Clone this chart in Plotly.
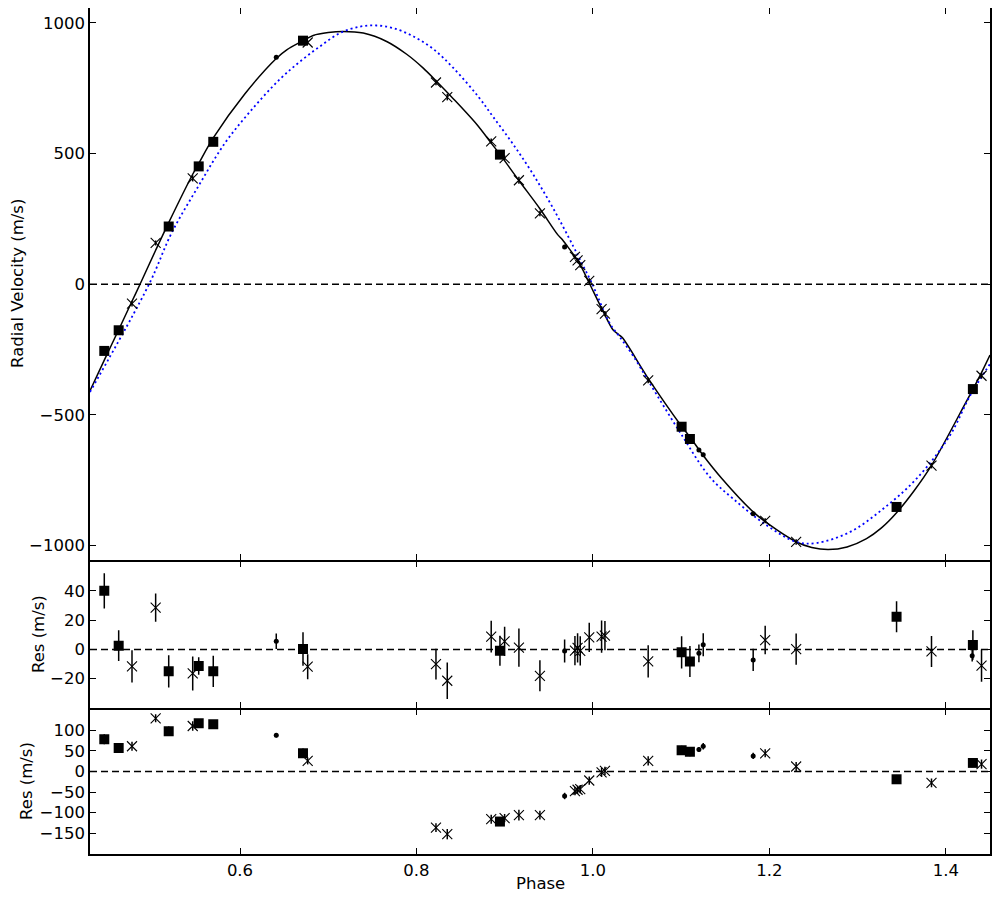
import plotly.graph_objects as go

# observed data, three instruments: squares, crosses, dots
phase_sq = [0.4462, 0.4625, 0.5192, 0.5532, 0.5697, 0.6714, 0.8946, 1.1005, 1.1099, 1.3441, 1.4306]
rv_sq = [-255, -176, 221, 451, 545, 932, 496, -545, -592, -852, -401]
err_sq = [12, 10.5, 11, 6, 10.6, 11.5, 10.3, 11, 10.6, 10.5, 10]
res1_sq = [40, 2.5, -15, -11.3, -15, 0.3, -0.9, -2, -8.2, 22.3, 3]
res2_sq = [78, 57, 97.6, 116.7, 114, 43.8, -121.4, 51, 47.6, -19, 20.7]

phase_x = [0.4776, 0.5044, 0.5464, 0.6767, 0.8221, 0.8349, 0.8847, 0.8999, 0.9161, 0.9399, 0.9796,
           0.9826, 0.9856, 0.9958, 1.0098, 1.0136, 1.0626, 1.1952, 1.2303, 1.3837, 1.4404]
rv_x = [-74, 158, 405, 925, 772, 716, 547, 483, 398, 271, 105, 91, 73, 13, -95, -112, -368, -905, -986, -694, -350]
err_x = [11, 9.7, 11.6, 8.5, 10.5, 12.5, 10.8, 10, 13, 10.6, 10, 10, 10, 10, 11, 10, 11, 9.7, 10.7, 10.6, 11]
res1_x = [-11.6, 28.5, -16.4, -11.8, -10, -21.4, 8.7, 5.5, 1.2, -18, -0.9, 1, -1, 8.2, 8.7, 9.4, -8.2, 6.4, 0.2, -1.4, -11.1]
res2_x = [61, 128.6, 110, 25.5, -136, -152, -115.7, -113, -106, -106, -47.6, -44.4, -42.8, -22, -2.4, 1.6,
          25.5, 43.8, 11.9, -27.7, 17.6]

phase_d = [0.6411, 0.9679, 1.1201, 1.1250, 1.1816, 1.4298]
rv_d = [869, 143, -634, -652, -878, -409]
err_d = [5.3, 7.8, 6, 7.8, 7.6, 4]
res1_d = [5.5, -1.1, -2.7, 3.2, -7.2, -4.3]
res2_d = [87.4, -59.5, 53.3, 61.2, 37.4, 16]

# model curves
model_phase = [0.430, 0.4462, 0.4625, 0.4776, 0.4867, 0.5044, 0.5192, 0.5464, 0.5532, 0.5697, 0.6054,
               0.6411, 0.6530, 0.6710, 0.6830, 0.7000, 0.7170, 0.7397, 0.7662, 0.7889, 0.8077, 0.8229,
               0.8417, 0.8682, 0.8847, 0.8946, 0.9161, 0.9399, 0.9600, 0.9650, 0.9700, 0.9796, 0.9856,
               0.9958, 1.0117, 1.0229, 1.0290, 1.0335, 1.0626, 1.1004, 1.1099, 1.1250, 1.1458, 1.1816,
               1.1968, 1.2307, 1.2480, 1.2666, 1.2880, 1.3101, 1.3270, 1.3441, 1.3640, 1.3837, 1.4234,
               1.4306, 1.4404, 1.4500]
model_rv = [-407, -290, -174, -65, 0, 130, 236, 421, 462, 560, 728,
            864, 897, 931, 952, 963, 967, 961, 929, 880, 827, 776,
            710, 612, 540, 497, 397, 289, 190, 172, 150, 106, 74,
            5, -105, -175, -192, -205, -360, -543, -584, -655, -742, -871,
            -912, -986, -1007, -1015, -1005, -973, -932, -874, -790, -693, -447,
            -402, -338, -271]

alt_phase = [0.430, 0.4969, 0.5226, 0.5528, 0.5831, 0.6133, 0.6453, 0.6680, 0.6906, 0.7133, 0.7360,
             0.7549, 0.7737, 0.7966, 0.8190, 0.8417, 0.8700, 0.8870, 0.9097, 0.9323, 0.9550, 0.9776,
             0.9852, 0.9985, 1.0192, 1.0300, 1.0456, 1.0646, 1.0986, 1.1326, 1.1590, 1.1968, 1.2307,
             1.2534, 1.2912, 1.3289, 1.3667, 1.4045, 1.4272, 1.4500]
alt_rv = [-412, 0, 197, 375, 541, 668, 785, 852, 910, 961, 986,
          990, 980, 948, 900, 828, 718, 640, 535, 420, 290, 146,
          95, 6, -150, -200, -274, -380, -566, -738, -821, -922, -986,
          -990, -948, -859, -744, -579, -428, -305]

font = dict(family="DejaVu Sans", size=16.5, color="black")
fig = go.Figure()

# top panel (x3/y), middle (x2/y2), bottom (x/y3)
fig.add_trace(go.Scatter(x=model_phase, y=model_rv, mode="lines",
                         line=dict(color="black", width=1.5, shape="spline", smoothing=0.9),
                         xaxis="x3", yaxis="y"))
fig.add_trace(go.Scatter(x=alt_phase, y=alt_rv, mode="lines",
                         line=dict(color="blue", width=1.8, dash="2px,3px", shape="spline", smoothing=1.0),
                         xaxis="x3", yaxis="y"))

def add_sets(ys, xaxis, yaxis):
    sets = [
        (phase_x, ys[1], err_x, dict(symbol="x-thin", size=10, line=dict(width=1.1, color="black"), color="black")),
        (phase_d, ys[2], err_d, dict(symbol="circle", size=5, color="black")),
        (phase_sq, ys[0], err_sq, dict(symbol="square", size=10, color="black")),
    ]
    for px, py, pe, mk in sets:
        fig.add_trace(go.Scatter(x=px, y=py, mode="markers", marker=mk,
                                 error_y=dict(type="data", array=pe, thickness=1.5, width=0, color="black"),
                                 xaxis=xaxis, yaxis=yaxis))

add_sets([rv_sq, rv_x, rv_d], "x3", "y")
add_sets([res1_sq, res1_x, res1_d], "x2", "y2")
add_sets([res2_sq, res2_x, res2_d], "x", "y3")

for xref, yref in [("x3", "y"), ("x2", "y2"), ("x", "y3")]:
    fig.add_shape(type="line", xref=xref, yref=yref, x0=0.43, x1=1.45, y0=0, y1=0,
                  line=dict(color="black", width=1.5, dash="7px,4px"), layer="below")

axis_common = dict(showline=True, linecolor="black", linewidth=1.5, mirror="allticks", ticks="inside",
                   ticklen=6, tickcolor="black", showgrid=False, zeroline=False, tickfont=font,
                   automargin=False)
xticks = [0.6, 0.8, 1.0, 1.2, 1.4]

# the page body adds an 8px offset, so the figure is a bit smaller than the window
fig.update_layout(
    width=984, height=884,
    margin=dict(l=82, r=2, t=0, b=38),
    plot_bgcolor="white", paper_bgcolor="white",
    showlegend=False,
    font=font,
    xaxis=dict(range=[0.43, 1.45], tickvals=xticks, ticktext=["0.6", "0.8", "1.0", "1.2", "1.4"],
               anchor="y3", **axis_common),
    xaxis2=dict(range=[0.43, 1.45], tickvals=xticks, matches="x", anchor="y2",
                showticklabels=False, **axis_common),
    xaxis3=dict(range=[0.43, 1.45], tickvals=xticks, matches="x", anchor="y",
                showticklabels=False, **axis_common),
    yaxis=dict(domain=[0.3475, 1.0], range=[-1055, 1057], tickvals=[-1000, -500, 0, 500, 1000],
               anchor="x3", **axis_common),
    yaxis2=dict(domain=[0.1726, 0.3457], range=[-40, 60], tickvals=[-20, 0, 20, 40],
                anchor="x2", **axis_common),
    yaxis3=dict(domain=[0, 0.1708], range=[-200, 150], tickvals=[-150, -100, -50, 0, 50, 100],
                anchor="x", **axis_common),
)

# axis titles as annotations, placed like the reference
fig.add_annotation(text="Phase", xref="paper", yref="paper", x=0.5, y=0, yshift=-29,
                   yanchor="middle", showarrow=False, font=font)
fig.add_annotation(text="Radial Velocity (m/s)", xref="paper", yref="paper", x=0, y=0.6738,
                   xshift=-72, textangle=-90, xanchor="center", yanchor="middle", showarrow=False, font=font)
fig.add_annotation(text="Res (m/s)", xref="paper", yref="paper", x=0, y=0.26,
                   xshift=-52, textangle=-90, xanchor="center", yanchor="middle", showarrow=False, font=font)
fig.add_annotation(text="Res (m/s)", xref="paper", yref="paper", x=0, y=0.0863,
                   xshift=-63, textangle=-90, xanchor="center", yanchor="middle", showarrow=False, font=font)

fig.write_html("out.html")
